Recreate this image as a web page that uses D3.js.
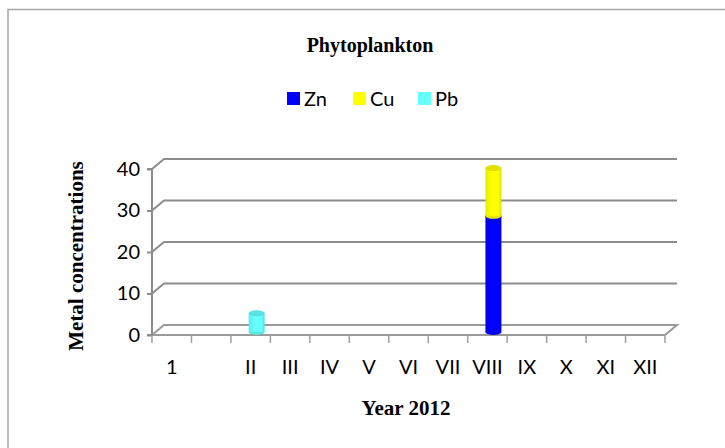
<!DOCTYPE html>
<html><head><meta charset="utf-8">
<script src="https://cdn.jsdelivr.net/npm/d3@7"></script>
<style>body{margin:0;background:#fff}svg{display:block}</style>
</head><body><svg id="c" width="725" height="448"></svg>
<script>
const categories = ["1","","II","III","IV","V","VI","VII","VIII","IX","X","XI","XII"];
const zn = [0,0,0,0,0,0,0,0,28,0,0,0,0];
const cu = [0,0,0,0,0,0,0,0,11.5,0,0,0,0];
const pb = [0,0,4.5,0,0,0,0,0,0,0,0,0,0];
const seriesNames = ["Zn","Cu","Pb"];
const seriesColors = ["#0000FF","#FFFF00","#66FFFF"];
const yTicks = [0,10,20,30,40];

const svg = d3.select("#c");
svg.append("rect").attr("x",8).attr("y",9.5).attr("width",730).attr("height",460)
  .attr("fill","#fff").attr("stroke","#a6a6a6").attr("stroke-width",1.5);

const x = d3.scaleBand().domain(d3.range(categories.length)).range([152,665]).padding(0);
const y = d3.scaleLinear().domain([0,40]).range([335,169]);
const dx = 12, dy = -10;
const grid = "#8c8c8c";
const sans = "Lato, 'Open Sans', sans-serif";
const serif = "'Liberation Serif', 'Times New Roman', serif";

const x0 = x.range()[0], x1 = x.range()[1];
svg.append("path").attr("d",`M${x0},${y(0)}L${x0+dx},${y(0)+dy}L${x1+dx},${y(0)+dy}L${x1},${y(0)}Z`)
  .attr("fill","#fff").attr("stroke","#9a9a9a").attr("stroke-width",2);

yTicks.filter(t=>t>0).forEach(t=>{
  svg.append("path").attr("d",`M${x0},${y(t)}L${x0+dx},${y(t)+dy}L${x1+dx},${y(t)+dy}`)
    .attr("fill","none").attr("stroke",grid).attr("stroke-width",2);
});

const yAxis = d3.axisLeft(y).tickValues(yTicks).tickSize(5).tickPadding(7);
const gy = svg.append("g").attr("transform",`translate(${x0},0)`).call(yAxis);
gy.select(".domain").attr("stroke",grid).attr("stroke-width",2).attr("d",`M-5,${y(40)}H0V${y(0)}H-5`);
gy.selectAll(".tick line").attr("stroke",grid).attr("stroke-width",2);
gy.selectAll(".tick text").attr("font-family",sans).attr("font-size",20).attr("fill","#000");

const xAxis = d3.axisBottom(x).tickFormat(i=>categories[i]).tickSize(0).tickPadding(25);
const gx = svg.append("g").attr("transform",`translate(0,${y(0)})`).call(xAxis);
gx.select(".domain").remove();
gx.selectAll(".tick text").attr("font-family",sans).attr("font-size",20).attr("fill","#000");
svg.append("g").selectAll("line").data(d3.range(categories.length+1)).join("line")
  .attr("x1",i=>x0+i*x.bandwidth()).attr("x2",i=>x0+i*x.bandwidth())
  .attr("y1",y(0)).attr("y2",y(0)+8).attr("stroke","#a0a0a0").attr("stroke-width",1.5);

const defs = svg.append("defs");
function shade(c,k){return d3.color(c).darker(k).formatHex();}
seriesColors.forEach((c,i)=>{
  const g = defs.append("linearGradient").attr("id","g"+i).attr("x1","0").attr("x2","1").attr("y1","0").attr("y2","0");
  g.append("stop").attr("offset","0").attr("stop-color",shade(c,0.25));
  g.append("stop").attr("offset","0.35").attr("stop-color",c);
  g.append("stop").attr("offset","0.8").attr("stop-color",c);
  g.append("stop").attr("offset","1").attr("stop-color",shade(c,0.4));
});
const stackData = categories.map((c,i)=>({i, Zn:zn[i], Cu:cu[i], Pb:pb[i]}));
const stacked = d3.stack().keys(seriesNames)(stackData);
const cw = 16, ry = 3;
const cyl = svg.append("g");
stacked.forEach((layer,si)=>{
  layer.forEach(d=>{
    const v = d[1]-d[0];
    if (v<=0) return;
    const cx = x(d.data.i)+x.bandwidth()/2+dx/2;
    const yb = y(d[0])+dy/2+2, yt = y(d[1])+dy/2+2;
    const col = seriesColors[si];
    cyl.append("ellipse").attr("cx",cx).attr("cy",yb).attr("rx",cw/2).attr("ry",ry).attr("fill",shade(col,0.3));
    cyl.append("rect").attr("x",cx-cw/2).attr("y",yt).attr("width",cw).attr("height",yb-yt).attr("fill",`url(#g${si})`);
    cyl.append("ellipse").attr("cx",cx).attr("cy",yt).attr("rx",cw/2).attr("ry",ry).attr("fill",shade(col,0.35));
  });
});

svg.append("text").attr("x",370).attr("y",52).attr("text-anchor","middle")
  .attr("font-family",serif).attr("font-weight","bold").attr("font-size",20)
  .text("Phytoplankton");

const lg = svg.append("g");
const legX = [287,353,418];
seriesNames.forEach((n,i)=>{
  lg.append("rect").attr("x",legX[i]).attr("y",92).attr("width",13).attr("height",13).attr("fill",seriesColors[i]);
  lg.append("text").attr("x",legX[i]+17).attr("y",106).attr("font-family",sans).attr("font-size",20).text(n);
});

svg.append("text").attr("transform","translate(83,256) rotate(-90)").attr("text-anchor","middle")
  .attr("font-family",serif).attr("font-weight","bold").attr("font-size",21)
  .text("Metal concentrations");
svg.append("text").attr("x",406).attr("y",415).attr("text-anchor","middle")
  .attr("font-family",serif).attr("font-weight","bold").attr("font-size",21)
  .text("Year 2012");
</script></body></html>
